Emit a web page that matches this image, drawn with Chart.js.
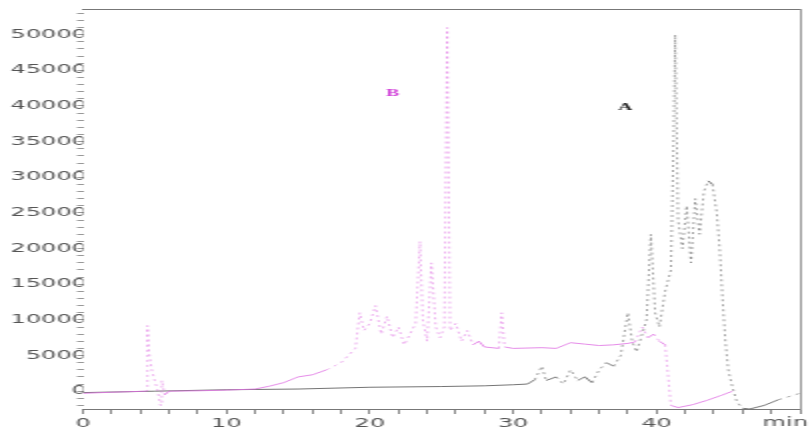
<!DOCTYPE html>
<html>
<head>
<meta charset="utf-8">
<script src="https://cdn.jsdelivr.net/npm/chart.js@4.4.1/dist/chart.umd.min.js"></script>
<style>
  html, body { margin: 0; padding: 0; background: #fff; overflow: hidden; }
  /* the original picture is stretched sideways, so the chart is too */
  #wrap { width: 406px; height: 438px; transform: scaleX(2); transform-origin: 0 0; }
</style>
</head>
<body>
<div id="wrap"><canvas id="chrom" width="406" height="438"></canvas></div>
<script>
// trace B (magenta)
const timeB = [0, 2, 4.4, 4.5, 4.6, 4.8, 5.0, 5.2, 5.4, 5.5, 5.7, 6, 8, 10, 12, 13, 14, 15, 16, 17, 18, 18.5, 19,
  19.3, 19.6, 20, 20.4, 20.8, 21.2, 21.6, 22, 22.4, 22.8, 23.2, 23.5, 23.7, 24, 24.3, 24.6, 24.9, 25.2, 25.4, 25.6,
  26, 26.4, 26.8, 27.2, 27.6, 28, 29, 29.2, 29.4, 30, 32, 33, 34, 35, 36, 37, 38, 38.5, 39, 39.4, 39.8, 40.2, 40.6,
  41, 41.5, 42.5, 43.5, 44.5, 45.3];
const signalB = [-300, -150, 0, 9200, 5500, 3000, 1500, 200, -2000, 1500, -500, 0, 50, 150, 300, 700, 1200, 2000, 2300, 3000, 4000, 5000, 6000,
  11000, 8500, 9500, 12000, 8000, 10500, 7500, 9000, 6500, 8000, 9500, 21000, 10000, 7000, 18000, 9000, 7500, 9000, 51000, 8500,
  9500, 7000, 8500, 6500, 7000, 6200, 6000, 11000, 6200, 6000, 6100, 6000, 6800, 6600, 6400, 6500, 6700, 6900, 9000, 7500, 8000, 7000, 6500,
  -2000, -2300, -1900, -1300, -600, 0];

// trace A (dark grey)
const timeA = [0, 5, 10, 15, 20, 25, 28, 30, 31, 31.5, 32, 32.3, 33, 33.5, 34, 34.5, 35, 35.5, 36, 36.5, 37, 37.5, 38, 38.3,
  38.6, 39, 39.3, 39.6, 39.9, 40.2, 40.6, 41, 41.2, 41.3, 41.5, 41.8, 42.1, 42.4, 42.7, 43, 43.3, 43.6, 43.9, 44.2, 44.4,
  44.6, 44.8, 45, 45.3, 45.6, 46, 46.5, 47.5, 48.5, 50];
const signalA = [-200, 0, 200, 300, 550, 650, 750, 900, 1000, 1600, 3500, 1500, 2000, 1000, 3000, 1500, 2000, 1200, 3000, 4000, 3500, 5000, 11000, 7000,
  5500, 8000, 10000, 22000, 11000, 9000, 14000, 17000, 36000, 50000, 24000, 20000, 26000, 18000, 27000, 22000, 28000, 29500, 29000, 25000, 20000,
  13000, 7000, 3000, 500, -1500, -2400, -2500, -2000, -1200, -300];

const xTickLabels = [0, 10, 20, 30, 40];
const yTickLabels = [0, 5000, 10000, 15000, 20000, 25000, 30000, 35000, 40000, 45000, 50000];
const yMinorStep = 1000;
const xUnit = 'min';

const peakNames = ['A', 'B'];
const peakTimes = [37.8, 21.6];
const peakHeights = [39800, 41700];
const peakColors = ['#222', '#d040d8'];

const toPoints = (xs, ys) => xs.map((t, i) => ({ x: t, y: ys[i] }));

// steep, noisy stretches look dotted in the original print
const steep = ctx => Math.abs(ctx.p1.y - ctx.p0.y) > 6;

const labelFont = { family: 'DejaVu Sans', size: 12 };
const labelColor = '#555';

const extras = {
  id: 'extras',
  afterDatasetsDraw(chart) {
    const { ctx, chartArea } = chart;
    const x = chart.scales.x, y = chart.scales.y;
    ctx.save();
    ctx.font = 'bold 10px "Liberation Serif"';
    ctx.textAlign = 'center';
    ctx.textBaseline = 'middle';
    peakNames.forEach((n, i) => {
      ctx.fillStyle = peakColors[i];
      ctx.fillText(n, x.getPixelForValue(peakTimes[i]), y.getPixelForValue(peakHeights[i]));
    });
    ctx.font = '12px "DejaVu Sans"';
    ctx.fillStyle = labelColor;
    ctx.textAlign = 'right';
    ctx.textBaseline = 'top';
    ctx.fillText(xUnit, chart.width - 2, chartArea.bottom + 8);
    ctx.restore();
  }
};

new Chart(document.getElementById('chrom'), {
  type: 'line',
  data: {
    datasets: [
      {
        label: 'B',
        data: toPoints(timeB, signalB),
        borderColor: 'rgba(222,110,226,0.8)',
        borderWidth: 1,
        pointRadius: 0,
        tension: 0,
        segment: {
          borderDash: ctx => steep(ctx) ? [2, 3] : undefined,
          borderColor: ctx => steep(ctx) ? 'rgba(222,110,226,0.55)' : undefined
        }
      },
      {
        label: 'A',
        data: toPoints(timeA, signalA),
        borderColor: 'rgba(70,70,70,0.75)',
        borderWidth: 1,
        pointRadius: 0,
        tension: 0,
        segment: {
          borderDash: ctx => steep(ctx) ? [2, 3] : undefined,
          borderColor: ctx => steep(ctx) ? 'rgba(70,70,70,0.5)' : undefined
        }
      }
    ]
  },
  options: {
    responsive: false,
    animation: false,
    layout: { padding: { top: 9, right: 6, left: 0, bottom: 0 } },
    plugins: { legend: { display: false }, tooltip: { enabled: false } },
    scales: {
      x: {
        type: 'linear',
        position: 'bottom',
        min: 0,
        max: 50,
        border: { display: true, color: '#777' },
        grid: { drawOnChartArea: false, tickLength: 5, color: '#888' },
        ticks: {
          stepSize: 2,
          autoSkip: false,
          maxRotation: 0,
          padding: 3,
          font: labelFont,
          color: labelColor,
          callback: v => xTickLabels.includes(v) ? String(v) : ''
        },
        afterFit: s => { s.height = 29; }
      },
      y: {
        type: 'linear',
        position: 'left',
        min: -2500,
        max: 53600,
        border: { display: false },
        grid: { drawOnChartArea: false, tickLength: 3, color: '#999' },
        ticks: {
          autoSkip: false,
          padding: -5,
          font: labelFont,
          color: labelColor,
          callback: v => yTickLabels.includes(v) ? String(v) : ''
        },
        // whole thousands only, so the labelled ticks fall on round values
        afterBuildTicks: s => {
          const list = [];
          for (let v = Math.ceil(s.min / yMinorStep) * yMinorStep; v <= s.max; v += yMinorStep) list.push({ value: v });
          s.ticks = list;
        },
        afterFit: s => { s.width = 41.5; }
      },
      xTop: {
        type: 'linear',
        position: 'top',
        border: { display: true, color: '#777' },
        grid: { drawOnChartArea: false, drawTicks: false },
        ticks: { display: false },
        afterFit: s => { s.height = 0; }
      },
      yRight: {
        type: 'linear',
        position: 'right',
        border: { display: true, color: '#999' },
        grid: { drawOnChartArea: false, drawTicks: false },
        ticks: { display: false },
        afterFit: s => { s.width = 0; }
      }
    }
  },
  plugins: [extras]
});
</script>
</body>
</html>
